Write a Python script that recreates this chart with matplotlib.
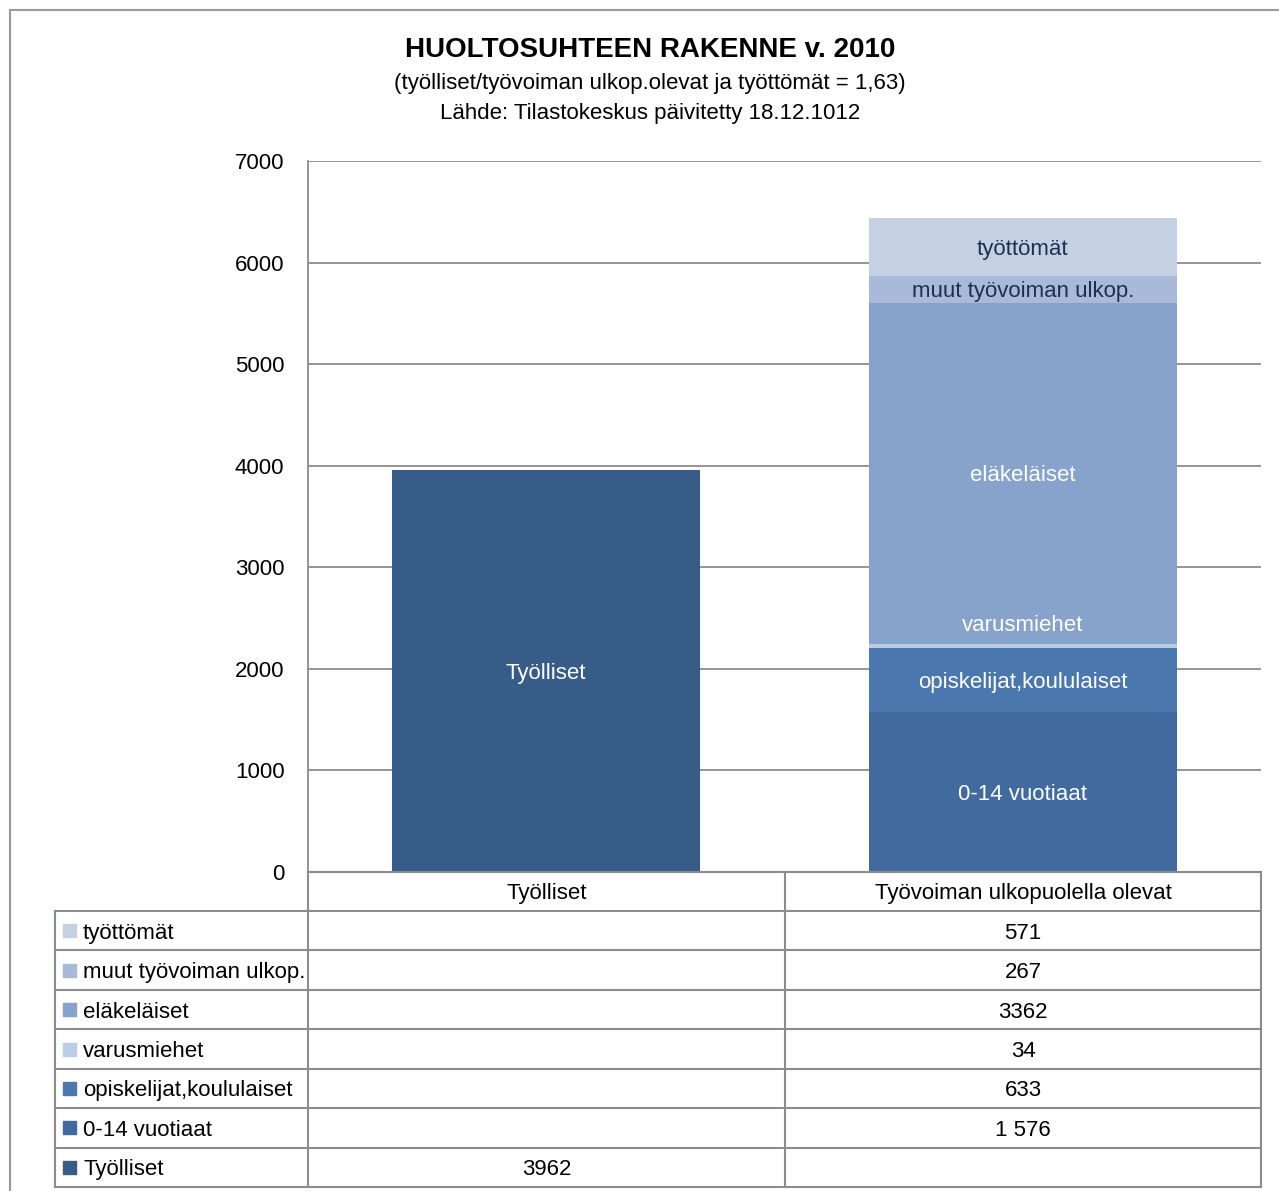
import matplotlib
matplotlib.use('Agg')
import matplotlib.pyplot as plt
from matplotlib.lines import Line2D
from matplotlib.patches import Rectangle

plt.rcParams['font.family'] = ['Liberation Sans Narrow', 'Liberation Sans', 'DejaVu Sans']

# ---- data ----
categories = ["Työlliset", "Työvoiman ulkopuolella olevat"]
series_names = ["Työlliset", "0-14 vuotiaat", "opiskelijat,koululaiset", "varusmiehet",
                "eläkeläiset", "muut työvoiman ulkop.", "työttömät"]
tyolliset = [3962, 0]
vuotiaat_0_14 = [0, 1576]
opiskelijat = [0, 633]
varusmiehet = [0, 34]
elakelaiset = [0, 3362]
muut = [0, 267]
tyottomat = [0, 571]
series_values = [tyolliset, vuotiaat_0_14, opiskelijat, varusmiehet, elakelaiset, muut, tyottomat]
table_text = [["3962", ""], ["", "1 576"], ["", "633"], ["", "34"],
              ["", "3362"], ["", "267"], ["", "571"]]
yticks = [0, 1000, 2000, 3000, 4000, 5000, 6000, 7000]

colors = ["#365C87", "#416B9E", "#4A77AD", "#B9CDE5", "#87A2CB", "#A9B9D9", "#C5D0E3"]
label_colors = ["white", "white", "white", "white", "white", "#1F2F4F", "#1F2F4F"]

FS = 16
VA = 'center_baseline'
W, H = 1279, 1191
fig = plt.figure(figsize=(W / 100, H / 100), dpi=100)

def fx(x):
    return x / W

def fy(y):
    return 1 - y / H

ax = fig.add_axes([fx(308), fy(872), fx(1261) - fx(308), fy(161) - fy(872)])
ax.set_xlim(-0.5, 1.5)
ax.set_ylim(0, 7000)
ax.set_yticks(yticks)
ax.set_yticklabels([str(t) for t in yticks], fontsize=FS)
ax.tick_params(axis='y', length=0, pad=17)
ax.set_xticks([])
for s in ['top', 'right', 'bottom']:
    ax.spines[s].set_visible(False)
ax.spines['left'].set_color('#8C8C8C')
ax.spines['left'].set_linewidth(1.3)
ax.grid(axis='y', color='#8C8C8C', linewidth=1.3)
ax.set_axisbelow(True)

bottoms = [0, 0]
bar_w = 0.646
for i, (name, vals) in enumerate(zip(series_names, series_values)):
    for c in range(2):
        v = vals[c]
        if v <= 0:
            continue
        ax.bar(c, v, bottom=bottoms[c], width=bar_w, color=colors[i], linewidth=0, zorder=3)
        if name == "varusmiehet":
            ax.annotate(name, (c, bottoms[c] + v), xytext=(0, 15), textcoords='offset points',
                        ha='center', va=VA, color=label_colors[i], fontsize=FS, zorder=4)
        else:
            ax.text(c, bottoms[c] + v / 2, name, ha='center', va=VA,
                    color=label_colors[i], fontsize=FS, zorder=4)
        bottoms[c] += v

# ---- titles ----
fig.text(fx(650), fy(50), "HUOLTOSUHTEEN RAKENNE v. 2010", ha='center', va='center',
         fontsize=20, fontweight='bold')
fig.text(fx(650), fy(83), "(työlliset/työvoiman ulkop.olevat ja työttömät = 1,63)",
         ha='center', va='center', fontsize=FS)
fig.text(fx(650), fy(113), "Lähde: Tilastokeskus päivitetty 18.12.1012",
         ha='center', va='center', fontsize=FS)

# ---- outer frame ----
fc = '#9A9A9A'
fig.add_artist(Line2D([fx(10), fx(1279)], [fy(10), fy(10)], color=fc, lw=1.5))
fig.add_artist(Line2D([fx(10), fx(10)], [fy(10), fy(1191)], color=fc, lw=1.5))

# ---- data table ----
tc = '#8C8C8C'
col_x = [55, 308, 785, 1261]
header_top, header_bot = 872, 911
row_h = (1187 - 911) / 7
rows_top = [911 + k * row_h for k in range(8)]

fig.add_artist(Line2D([fx(308), fx(1261)], [fy(header_top), fy(header_top)], color=tc, lw=1.5))
for x in col_x[1:]:
    fig.add_artist(Line2D([fx(x), fx(x)], [fy(header_top), fy(1187)], color=tc, lw=1.5))
fig.add_artist(Line2D([fx(55), fx(55)], [fy(911), fy(1187)], color=tc, lw=1.5))
for y in rows_top:
    fig.add_artist(Line2D([fx(55), fx(1261)], [fy(y), fy(y)], color=tc, lw=1.5))
for c, cat in enumerate(categories):
    cx = (col_x[c + 1] + col_x[c + 2]) / 2
    fig.text(fx(cx), fy((header_top + header_bot) / 2), cat, ha='center', va=VA, fontsize=FS)

order = list(range(len(series_names)))[::-1]
for r, i in enumerate(order):
    yc = (rows_top[r] + rows_top[r + 1]) / 2
    fig.add_artist(Rectangle((fx(63), fy(yc + 6.5)), fx(13), 13 / H, color=colors[i],
                             transform=fig.transFigure))
    fig.text(fx(83), fy(yc), series_names[i], ha='left', va=VA, fontsize=FS)
    for c in range(2):
        cx = (col_x[c + 1] + col_x[c + 2]) / 2
        if table_text[i][c]:
            fig.text(fx(cx), fy(yc), table_text[i][c], ha='center', va=VA, fontsize=FS)

fig.savefig('out.png', dpi=100)
